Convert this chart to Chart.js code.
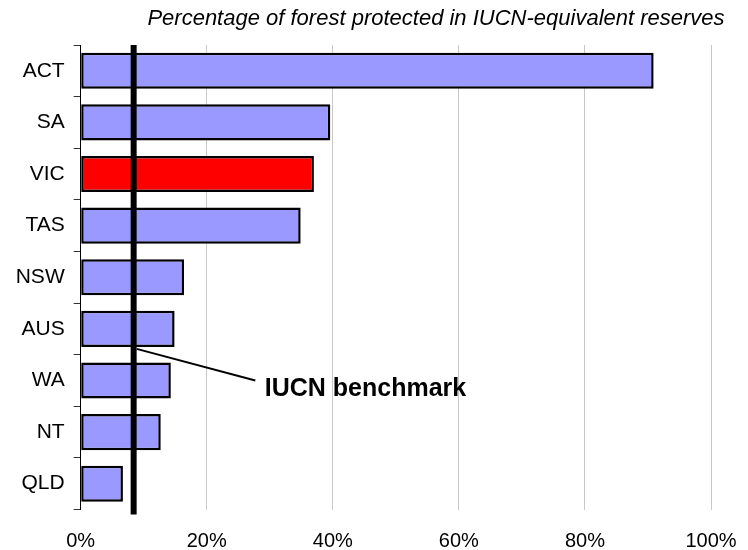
<!DOCTYPE html>
<html>
<head>
<meta charset="utf-8">
<script src="https://cdn.jsdelivr.net/npm/chart.js@4.4.0/dist/chart.umd.min.js"></script>
<style>
  body { margin: 0; background: #fff; }
  canvas { display: block; }
</style>
</head>
<body>
<canvas id="chart" width="748" height="550"></canvas>
<script>
const states = ["ACT", "SA", "VIC", "TAS", "NSW", "AUS", "WA", "NT", "QLD"];
const protectedPct = [90.9, 39.6, 37.0, 34.9, 16.4, 14.9, 14.3, 12.7, 6.7];
const xTicks = [0, 20, 40, 60, 80, 100];
const benchmark = 8.4;
const titleText = "Percentage of forest protected in IUCN-equivalent reserves";
const benchmarkText = "IUCN benchmark";

const font = "'Liberation Sans', Arial, sans-serif";

const barColors = states.map(s => s === "VIC" ? "#FF0000" : "#9999FF");

// benchmark line, leader and label, plus the italic heading
const benchmarkPlugin = {
  id: "benchmark",
  afterDatasetsDraw(chart) {
    const { ctx, chartArea, scales } = chart;
    const x = scales.x, y = scales.y;
    const bx = x.getPixelForValue(benchmark);

    ctx.save();
    ctx.strokeStyle = "#000";
    ctx.lineWidth = 6;
    ctx.beginPath();
    ctx.moveTo(bx, chartArea.top);
    ctx.lineTo(bx, chartArea.bottom + 5);
    ctx.stroke();

    // leader from the line to the label
    const ausY = y.getPixelForValue(states.indexOf("AUS"));
    const waY = y.getPixelForValue(states.indexOf("WA"));
    ctx.lineWidth = 2;
    ctx.beginPath();
    ctx.moveTo(bx + 3, ausY + 20);
    ctx.lineTo(x.getPixelForValue(27.7), waY);
    ctx.stroke();

    ctx.fillStyle = "#000";
    ctx.font = "bold 25px " + font;
    ctx.textAlign = "left";
    ctx.textBaseline = "middle";
    ctx.fillText(benchmarkText, x.getPixelForValue(29.2), waY + 9);
    ctx.restore();
  },
  afterDraw(chart) {
    const ctx = chart.ctx;
    ctx.save();
    ctx.fillStyle = "#000";
    ctx.font = "italic 22px " + font;
    ctx.textAlign = "center";
    ctx.textBaseline = "middle";
    ctx.fillText(titleText, 436, 19);
    ctx.restore();
  }
};

new Chart(document.getElementById("chart"), {
  type: "bar",
  data: {
    labels: states,
    datasets: [{
      data: protectedPct,
      backgroundColor: barColors,
      borderColor: "#000",
      borderWidth: 2.5,
      borderSkipped: false,
      categoryPercentage: 1,
      barPercentage: 0.7
    }]
  },
  options: {
    indexAxis: "y",
    responsive: false,
    animation: false,
    devicePixelRatio: 1,
    layout: { padding: { top: 45, right: 37, left: 0, bottom: 0 } },
    plugins: {
      legend: { display: false },
      tooltip: { enabled: false },
      title: { display: false }
    },
    scales: {
      x: {
        min: 0,
        max: 100,
        afterBuildTicks(scale) {
          scale.ticks = xTicks.map(v => ({ value: v }));
        },
        afterFit(scale) {
          scale.height = 40.5;
          scale.paddingLeft = 0;
          scale.paddingRight = 0;
        },
        grid: { color: "#c8c8c8", lineWidth: 1, drawTicks: false },
        border: { display: false },
        ticks: {
          padding: 20,
          color: "#000",
          font: { family: font, size: 20 },
          callback: v => v + "%"
        }
      },
      y: {
        afterFit(scale) { scale.width = 80.7; },
        grid: { drawOnChartArea: false, drawTicks: true, tickLength: 7, color: "#333" },
        border: { display: true, color: "#000", width: 1 },
        ticks: {
          padding: 9,
          color: "#000",
          font: { family: font, size: 21 }
        }
      }
    }
  },
  plugins: [benchmarkPlugin]
});
</script>
</body>
</html>
